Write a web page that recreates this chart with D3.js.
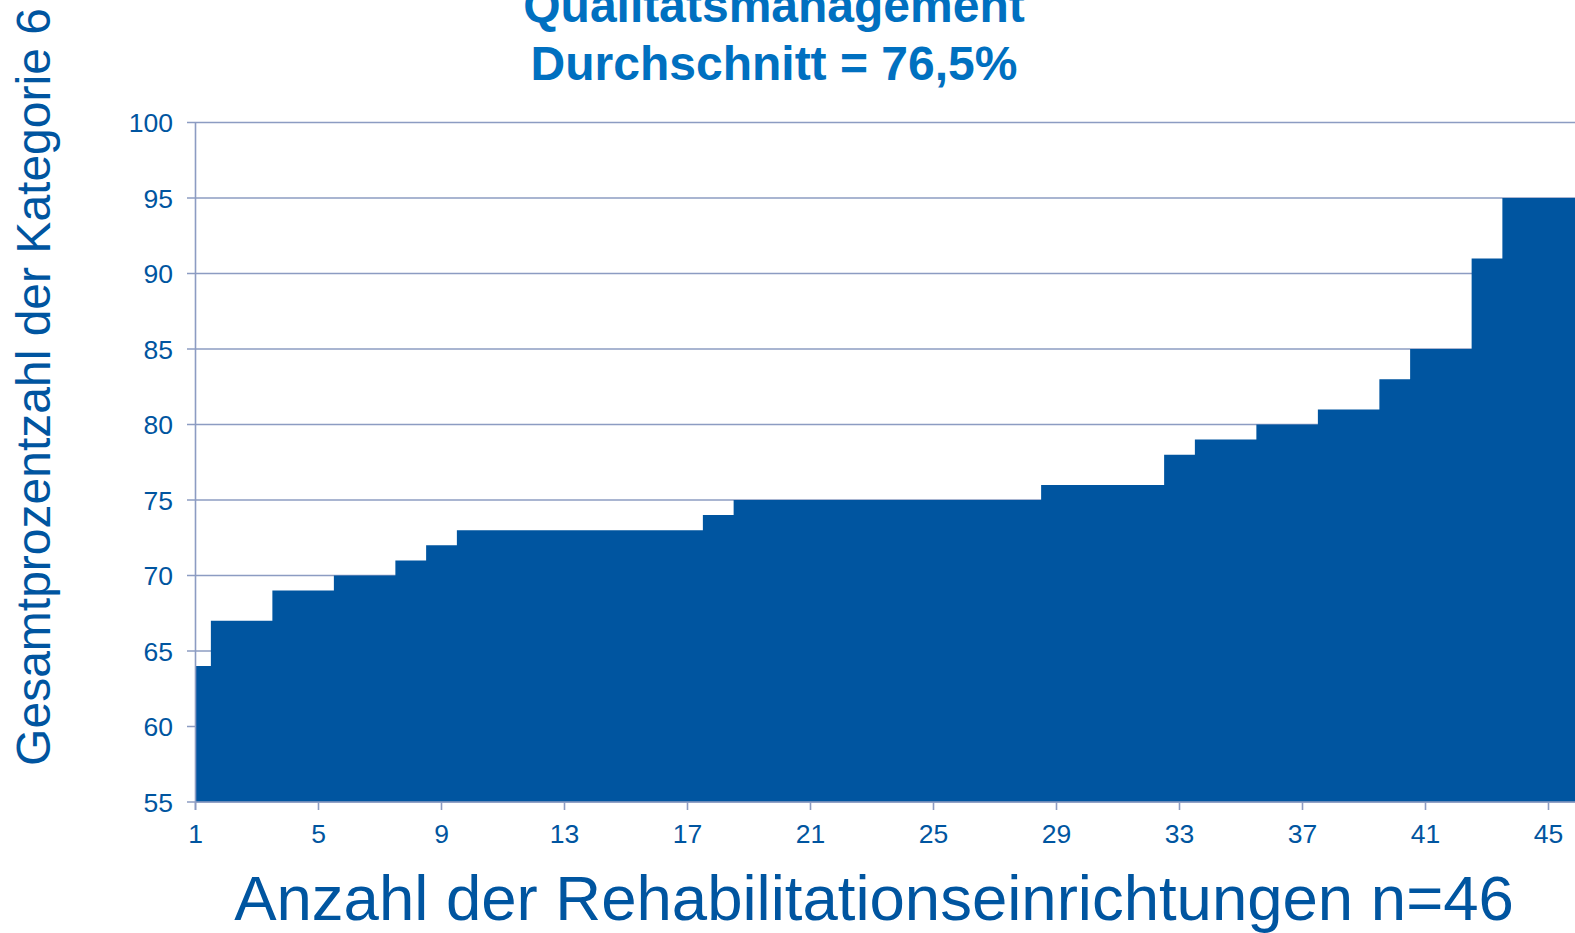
<!DOCTYPE html>
<html>
<head>
<meta charset="utf-8">
<script src="https://cdn.jsdelivr.net/npm/d3@7"></script>
<style>
    body { margin: 0; background: #fff; }
    svg { display: block; font-family: "Liberation Sans", Arial, sans-serif; }
</style>
</head>
<body>
<svg id="chart" width="1575" height="933"></svg>
<script>
// Rehabilitationseinrichtungen 1..46, sortiert nach Gesamtprozentzahl
const einrichtungen = d3.range(1, 47);
const prozent = [
    64, 67, 67, 69, 69, 70, 70, 71, 72, 73,
    73, 73, 73, 73, 73, 73, 73, 74, 75, 75,
    75, 75, 75, 75, 75, 75, 75, 75, 76, 76,
    76, 76, 78, 79, 79, 80, 80, 81, 81, 83,
    85, 85, 91, 95, 95, 95
];
const xTicks = [1, 5, 9, 13, 17, 21, 25, 29, 33, 37, 41, 45];
const yTicks = [55, 60, 65, 70, 75, 80, 85, 90, 95, 100];
const titel = ["Qualitätsmanagement", "Durchschnitt = 76,5%"];

const blue = "#0055a0";
const gridColor = "#8c9cc2";

let svg = d3.select("#chart");

let x = d3.scaleLinear()
    .domain([1, 46])
    .range([195.5, 195.5 + 45 * 30.75]);

let y = d3.scaleLinear()
    .domain([55, 100])
    .range([802, 122.5]);

// gridlines + y ticks
svg.append("g")
    .selectAll("line")
    .data(yTicks)
    .join("line")
    .attr("x1", 187)
    .attr("x2", 1575)
    .attr("y1", d => y(d))
    .attr("y2", d => y(d))
    .attr("stroke", gridColor)
    .attr("stroke-width", 1.6);

// step area
let area = d3.area()
    .curve(d3.curveStep)
    .x((d, i) => x(einrichtungen[i]))
    .y0(y(55))
    .y1(d => y(d));

svg.append("path")
    .datum(prozent)
    .attr("d", area)
    .attr("fill", blue);

// axis lines
svg.append("line")
    .attr("x1", x(1)).attr("x2", x(1))
    .attr("y1", y(100)).attr("y2", y(55) + 8)
    .attr("stroke", gridColor).attr("stroke-width", 1.6);

svg.append("line")
    .attr("x1", x(1)).attr("x2", 1575)
    .attr("y1", y(55)).attr("y2", y(55))
    .attr("stroke", gridColor).attr("stroke-width", 1.6);

svg.append("g")
    .selectAll("line")
    .data(xTicks)
    .join("line")
    .attr("x1", d => x(d)).attr("x2", d => x(d))
    .attr("y1", y(55)).attr("y2", y(55) + 8)
    .attr("stroke", gridColor).attr("stroke-width", 1.6);

// tick labels
svg.append("g")
    .selectAll("text")
    .data(yTicks)
    .join("text")
    .attr("x", 173)
    .attr("y", d => y(d) + 9.5)
    .attr("text-anchor", "end")
    .attr("font-size", 26.5)
    .attr("fill", blue)
    .text(d => d);

svg.append("g")
    .selectAll("text")
    .data(xTicks)
    .join("text")
    .attr("x", d => x(d))
    .attr("y", 843)
    .attr("text-anchor", "middle")
    .attr("font-size", 26.5)
    .attr("fill", blue)
    .text(d => d);

// title
svg.append("g")
    .selectAll("text")
    .data(titel)
    .join("text")
    .attr("x", 774)
    .attr("y", (d, i) => 22 + i * 58)
    .attr("text-anchor", "middle")
    .attr("font-size", 48)
    .attr("font-weight", "bold")
    .attr("fill", "#0070c0")
    .text(d => d);

// axis titles
svg.append("text")
    .attr("transform", "translate(50,387) rotate(-90)")
    .attr("text-anchor", "middle")
    .attr("font-size", 48)
    .attr("fill", blue)
    .text("Gesamtprozentzahl der Kategorie 6");

svg.append("text")
    .attr("x", 874)
    .attr("y", 920)
    .attr("text-anchor", "middle")
    .attr("font-size", 63.5)
    .attr("fill", blue)
    .text("Anzahl der Rehabilitationseinrichtungen n=46");
</script>
</body>
</html>
